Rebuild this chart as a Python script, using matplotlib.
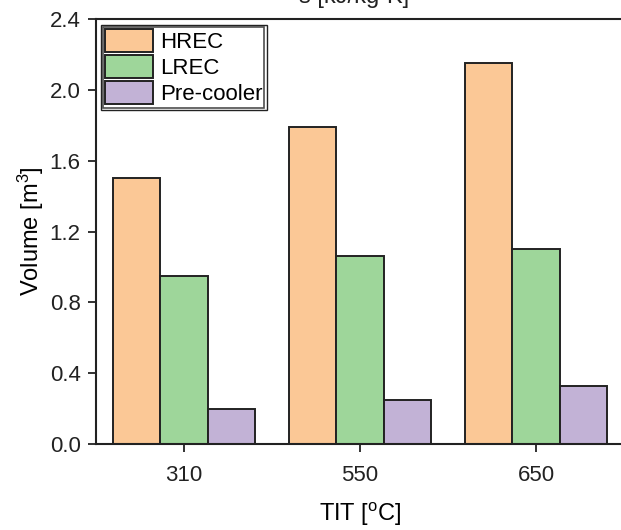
import matplotlib
matplotlib.use("Agg")
import matplotlib.pyplot as plt
from matplotlib.patches import Rectangle
import numpy as np

plt.rcParams['font.family'] = ['Liberation Sans', 'DejaVu Sans']
plt.rcParams['mathtext.fontset'] = 'custom'
plt.rcParams['mathtext.rm'] = 'Liberation Sans'
plt.rcParams['mathtext.it'] = 'Liberation Sans'

categories = ['310', '550', '650']
series_names = ['HREC', 'LREC', 'Pre-cooler']
hrec = [1.50, 1.79, 2.15]
lrec = [0.95, 1.06, 1.10]
precooler = [0.20, 0.25, 0.33]
y_ticks = [0.0, 0.4, 0.8, 1.2, 1.6, 2.0, 2.4]

colors = ['#FBC896', '#9ED69A', '#C2B2D6']
edge = '#222222'

W, H = 621, 530
fig = plt.figure(figsize=(W / 100, H / 100), dpi=100)
ax = fig.add_axes([96 / W, 1 - 444 / H, (624 - 96) / W, (444 - 19) / H])

x = np.arange(len(categories))
width = 0.27
for i, (vals, name, c) in enumerate(zip([hrec, lrec, precooler], series_names, colors)):
    ax.bar(x + (i - 1) * width, vals, width, color=c, edgecolor=edge,
           linewidth=1.4, label=name, zorder=2)

ax.set_xlim(-0.5, 2.5)
ax.set_ylim(0, 2.4)
ax.set_xticks(x)
ax.set_xticklabels(categories)
ax.set_yticks(y_ticks)
ax.set_yticklabels([f'{v:.1f}' for v in y_ticks])
ax.tick_params(axis='both', direction='out', length=6, width=1.3,
               labelsize=16, colors='#222222', pad=5)
ax.tick_params(axis='x', pad=9)
for s in ax.spines.values():
    s.set_linewidth(1.5)
    s.set_color('#222222')

ax.set_xlabel('TIT [$^{\\mathrm{o}}$C]', fontsize=17, labelpad=11)
ax.set_ylabel('Volume [m$^{3}$]', fontsize=17, labelpad=3)

leg = ax.legend(loc='upper left', bbox_to_anchor=(103 / W, 1 - 27 / H),
                bbox_transform=fig.transFigure, borderaxespad=0,
                frameon=True, fancybox=False, fontsize=16,
                handlelength=2.15, handleheight=1.2, labelspacing=0.1,
                handletextpad=0.3, borderpad=0.1)
leg.get_frame().set_edgecolor('#222222')
leg.get_frame().set_linewidth(1.2)
for p in leg.get_patches():
    p.set_linewidth(1.4)

# outer border of the legend box
fig.patches.append(Rectangle((101 / W, 1 - 110 / H), (267 - 101) / W, (110 - 25) / H,
                             transform=fig.transFigure, fill=False,
                             edgecolor='#222222', linewidth=1.0, zorder=5))

fig.text(354 / W, 1 - 3 / H, 's [kJ/kg-K]', ha='center', va='baseline', fontsize=17,
         color='#222222')

fig.savefig('out.png', dpi=100)
